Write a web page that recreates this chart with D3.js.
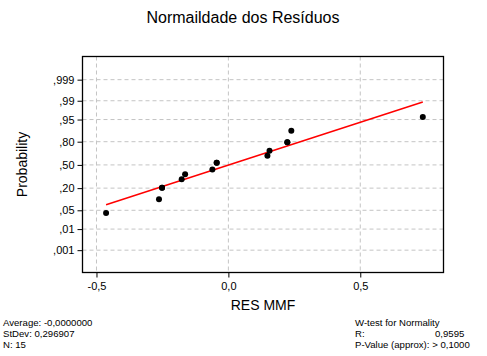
<!DOCTYPE html>
<html><head><meta charset="utf-8">
<script src="https://cdn.jsdelivr.net/npm/d3@7"></script>
<style>body{margin:0;background:#fff}svg{display:block;font-family:"Liberation Sans",Arial,sans-serif}</style>
</head><body><svg id="c" width="487" height="356"></svg>
<script>
const residuals = [-0.4636, -0.263, -0.2515, -0.2515, -0.177, -0.164, -0.0606, -0.0443, -0.0443, 0.148, 0.156, 0.2235, 0.2235, 0.2386, 0.737];
const probabilities = [0.041, 0.107, 0.205, 0.205, 0.303, 0.369, 0.434, 0.533, 0.533, 0.631, 0.697, 0.795, 0.795, 0.893, 0.959];
const fitLineX = [-0.4636, 0.737];
const fitLineP = [0.074, 0.9887];
const yTickProbs = [0.001, 0.01, 0.05, 0.20, 0.50, 0.80, 0.95, 0.99, 0.999];
const yTickLabels = [",001", ",01", ",05", ",20", ",50", ",80", ",95", ",99", ",999"];
const xTicks = [-0.5, 0, 0.5];
const xTickLabels = ["-0,5", "0,0", "0,5"];
const statsLeft = ["Average: -0,0000000", "StDev: 0,296907", "N: 15"];
const statsRight = ["W-test for Normality", "R:", "P-Value (approx): > 0,1000"];
const statsRightValues = ["", "0,9595", ""];

// inverse normal CDF (Acklam)
function probit(p){
  const a=[-3.969683028665376e+01,2.209460984245205e+02,-2.759285104469687e+02,1.383577518672690e+02,-3.066479806614716e+01,2.506628277459239e+00];
  const b=[-5.447609879822406e+01,1.615858368580409e+02,-1.556989798598866e+02,6.680131188771972e+01,-1.328068155288572e+01];
  const c=[-7.784894002430293e-03,-3.223964580411365e-01,-2.400758277161838e+00,-2.549732539343734e+00,4.374664141464968e+00,2.938163982698783e+00];
  const d=[7.784695709041462e-03,3.224671290700398e-01,2.445134137142996e+00,3.754408661907416e+00];
  const pl=0.02425, ph=1-pl;
  let q,r;
  if(p<pl){q=Math.sqrt(-2*Math.log(p));return (((((c[0]*q+c[1])*q+c[2])*q+c[3])*q+c[4])*q+c[5])/((((d[0]*q+d[1])*q+d[2])*q+d[3])*q+1);}
  if(p<=ph){q=p-0.5;r=q*q;return (((((a[0]*r+a[1])*r+a[2])*r+a[3])*r+a[4])*r+a[5])*q/(((((b[0]*r+b[1])*r+b[2])*r+b[3])*r+b[4])*r+1);}
  q=Math.sqrt(-2*Math.log(1-p));return -(((((c[0]*q+c[1])*q+c[2])*q+c[3])*q+c[4])*q+c[5])/((((d[0]*q+d[1])*q+d[2])*q+d[3])*q+1);
}

const svg = d3.select("#c");
const L=82.5, R=443.5, T=56.5, B=272.5;
const x = d3.scaleLinear().domain([-0.553, 0.8155]).range([L, R]);
const z = d3.scaleLinear().domain([-3.9, 3.93]).range([B, T]);
const yP = p => z(probit(p));

// grid
const g = svg.append("g");
g.selectAll("line.hg").data(yTickProbs).join("line")
  .attr("x1", L).attr("x2", R).attr("y1", d=>yP(d)).attr("y2", d=>yP(d))
  .attr("stroke", "#c4c4c4").attr("stroke-width", 1).attr("stroke-dasharray", "4,3");
g.selectAll("line.vg").data(xTicks).join("line")
  .attr("y1", T).attr("y2", B).attr("x1", d=>x(d)).attr("x2", d=>x(d))
  .attr("stroke", "#c4c4c4").attr("stroke-width", 1).attr("stroke-dasharray", "4,3");

// frame
svg.append("rect").attr("x", L).attr("y", T).attr("width", R-L).attr("height", B-T)
  .attr("fill", "none").attr("stroke", "#000").attr("stroke-width", 1.3);

// axes
const yAxis = d3.axisLeft(z).tickValues(yTickProbs.map(probit)).tickSize(5).tickPadding(3)
  .tickFormat((d,i)=>yTickLabels[i]);
const ya = svg.append("g").attr("transform", `translate(${L},0)`).call(yAxis);
ya.select(".domain").remove();
ya.selectAll("text").attr("font-size", 11).attr("font-family", "Liberation Sans, Arial, sans-serif").attr("fill","#000");
ya.selectAll("line").attr("stroke", "#000");

const xAxis = d3.axisBottom(x).tickValues(xTicks).tickSize(5).tickPadding(5)
  .tickFormat((d,i)=>xTickLabels[i]);
const xa = svg.append("g").attr("transform", `translate(0,${B})`).call(xAxis);
xa.select(".domain").remove();
xa.selectAll("text").attr("font-size", 11).attr("font-family", "Liberation Sans, Arial, sans-serif").attr("fill","#000");
xa.selectAll("line").attr("stroke", "#000");

// fit line
svg.append("line")
  .attr("x1", x(fitLineX[0])).attr("y1", yP(fitLineP[0]))
  .attr("x2", x(fitLineX[1])).attr("y2", yP(fitLineP[1]))
  .attr("stroke", "#ff0000").attr("stroke-width", 1.5);

// points
svg.selectAll("circle.pt").data(residuals).join("circle")
  .attr("cx", d=>x(d)).attr("cy", (d,i)=>yP(probabilities[i])).attr("r", 3)
  .attr("fill", "#000");

// titles
svg.append("text").attr("x", 243).attr("y", 23).attr("text-anchor", "middle")
  .attr("font-size", 16).text("Normaildade dos Resíduos");
svg.append("text").attr("x", (L+R)/2).attr("y", 310).attr("text-anchor", "middle")
  .attr("font-size", 14).text("RES MMF");
svg.append("text").attr("transform", `translate(27,${(T+B)/2}) rotate(-90)`).attr("text-anchor", "middle")
  .attr("font-size", 14).text("Probability");

// stats
svg.selectAll("text.sl").data(statsLeft).join("text")
  .attr("x", 3).attr("y", (d,i)=>326+i*11).attr("font-size", 9.6).text(d=>d);
svg.selectAll("text.sr").data(statsRight).join("text")
  .attr("x", 355).attr("y", (d,i)=>326+i*11).attr("font-size", 9.6).text(d=>d);
svg.selectAll("text.srv").data(statsRightValues).join("text")
  .attr("x", 435).attr("y", (d,i)=>326+i*11).attr("font-size", 9.6).text(d=>d);
</script></body></html>
